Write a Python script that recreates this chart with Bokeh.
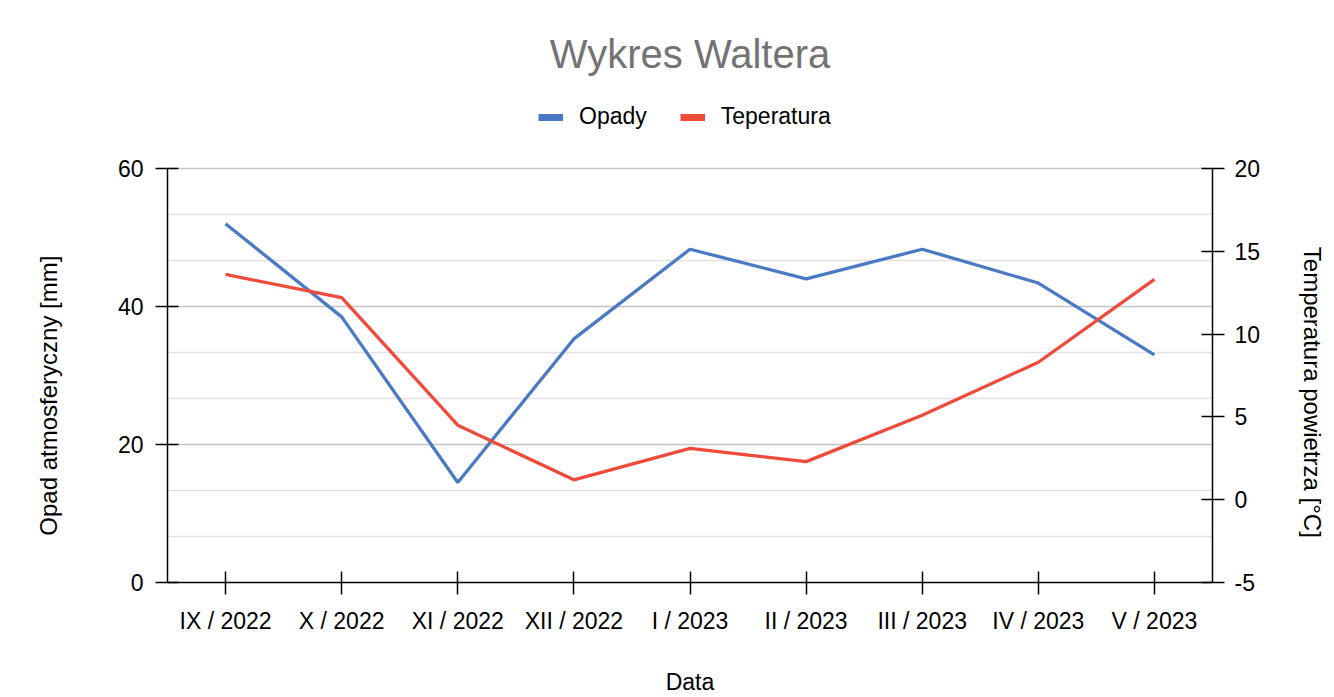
import math
from bokeh.plotting import figure
from bokeh.models import (FactorRange, Range1d, LinearAxis, FixedTicker, Legend,
                          LegendItem, Title, PrintfTickFormatter)
from bokeh.embed import file_html
from bokeh.resources import INLINE

# ---- data ----
months = ["IX / 2022", "X / 2022", "XI / 2022", "XII / 2022", "I / 2023",
          "II / 2023", "III / 2023", "IV / 2023", "V / 2023"]
opady = [52.0, 38.5, 14.5, 35.3, 48.3, 44.0, 48.3, 43.4, 33.0]
temperatura = [13.6, 12.2, 4.5, 1.2, 3.1, 2.3, 5.1, 8.3, 13.3]
left_ticks = [0, 20, 40, 60]
right_ticks = [-5, 0, 5, 10, 15, 20]

FONT = "Liberation Sans"
BLUE = "#4a7ac3"
RED = "#ee4b3b"

# layout (pixels): frame spans from just under the title down to the x axis,
# the value axes are bounded to their visible ranges.
W, H = 1334, 697
FRAME_TOP, AXIS_TOP, AXIS_BOTTOM = 75, 168, 582
stretch = (AXIS_BOTTOM - FRAME_TOP) / (AXIS_BOTTOM - AXIS_TOP)
L0, L1 = left_ticks[0], left_ticks[-1]
R0, R1 = right_ticks[0], right_ticks[-1]

p = figure(width=W, height=H,
           x_range=FactorRange(*months),
           y_range=Range1d(L0, L0 + (L1 - L0) * stretch),
           output_backend="svg", toolbar_location=None,
           min_border_left=167, min_border_right=122,
           min_border_top=FRAME_TOP, min_border_bottom=H - AXIS_BOTTOM)
p.outline_line_color = None
p.background_fill_color = "white"
p.border_fill_color = "white"

p.title = Title(text="Wykres Waltera", align="center", text_font_size="40px",
                text_color="#737373", text_font_style="normal", text_font=FONT,
                standoff=0)

# grid
grid_minor = [L1 * i / 9 for i in range(10) if i % 3 != 0]
p.xgrid.visible = False
p.ygrid.ticker = FixedTicker(ticks=left_ticks, minor_ticks=grid_minor)
p.ygrid.grid_line_color = "#c4c4c4"
p.ygrid.grid_line_width = 1.5
p.ygrid.minor_grid_line_color = "#e2e2e2"
p.ygrid.minor_grid_line_width = 1.5

def style_axis(ax):
    ax.axis_line_color = "black"
    ax.axis_line_width = 1.5
    ax.major_tick_line_color = "black"
    ax.major_tick_line_width = 1.5
    ax.major_tick_in = 11
    ax.major_tick_out = 12
    ax.minor_tick_line_color = None
    ax.major_label_text_font = FONT
    ax.major_label_text_font_size = "23px"
    ax.major_label_text_color = "black"
    ax.axis_label_text_font = FONT
    ax.axis_label_text_font_style = "normal"
    ax.axis_label_text_color = "black"

NB = "\u00a0"

left = p.left[0]
left.ticker = FixedTicker(ticks=left_ticks, minor_ticks=[])
left.formatter = PrintfTickFormatter(format="%d")
left.bounds = (L0, L1)
style_axis(left)
left.major_label_standoff = 12
left.axis_label = "Opad atmosferyczny [mm]" + NB * 20
left.axis_label_text_font_size = "24px"
left.axis_label_standoff = 53

xax = p.below[0]
style_axis(xax)
xax.major_label_standoff = 13
xax.axis_label = "Data"
xax.axis_label_text_font_size = "23px"
xax.axis_label_standoff = 32

p.extra_y_ranges = {"temp": Range1d(R0, R0 + (R1 - R0) * stretch)}
right = LinearAxis(y_range_name="temp",
                   ticker=FixedTicker(ticks=right_ticks, minor_ticks=[]),
                   formatter=PrintfTickFormatter(format="%d"),
                   bounds=(R0, R1))
style_axis(right)
right.major_label_standoff = 10
right.axis_label = NB * 19 + "Temperatura powietrza [°C]"
right.axis_label_text_font_size = "24px"
right.axis_label_standoff = 36
p.add_layout(right, "right")

# series
p.line(months, opady, color=BLUE, line_width=3.3)
p.line(months, temperatura, color=RED, line_width=3.3, y_range_name="temp")

# legend (thick swatches) from non-drawn helper renderers
nan = float("nan")
r1 = p.line(x=months[:2], y=[nan, nan], color=BLUE, line_width=7)
r2 = p.line(x=months[:2], y=[nan, nan], color=RED, line_width=7,
            y_range_name="temp")
legend = Legend(items=[LegendItem(label="Opady", renderers=[r1]),
                       LegendItem(label="Teperatura", renderers=[r2])],
                orientation="horizontal", location=(371, 452),
                glyph_width=25, glyph_height=24, label_height=24,
                label_standoff=16, spacing=33, padding=0, margin=0,
                border_line_color=None, background_fill_alpha=0,
                label_text_font=FONT, label_text_font_size="23px",
                label_text_color="black")
p.add_layout(legend)

open("out.html", "w").write(file_html(p, INLINE))
